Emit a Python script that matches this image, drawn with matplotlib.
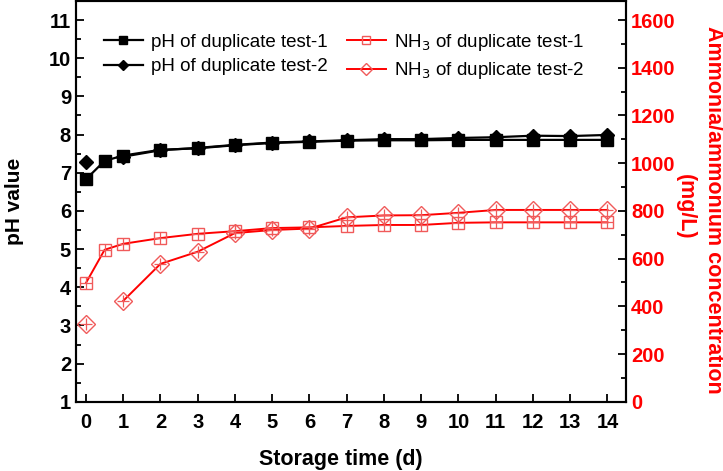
import numpy as np
import matplotlib.pyplot as plt
from matplotlib.ticker import MultipleLocator

plt.rcParams['font.family'] = ['Liberation Sans', 'DejaVu Sans']

# storage time (d); the 0.5 d point only exists for test-1
days = [0, 0.5, 1, 2, 3, 4, 5, 6, 7, 8, 9, 10, 11, 12, 13, 14]
nan = np.nan

ph_test1 = [6.83, 7.31, 7.45, 7.60, 7.64, 7.72, 7.78, 7.81, 7.84, 7.85,
            7.85, 7.86, 7.86, 7.86, 7.86, 7.86]
ph_test2 = [7.27, nan, 7.42, 7.59, 7.65, 7.73, 7.79, 7.82, 7.85, 7.88,
            7.88, 7.91, 7.93, 7.97, 7.96, 7.99]

nh3_test1 = [498, 637, 662, 686, 704, 715, 728, 731, 737, 741,
             741, 750, 752, 752, 752, 752]
nh3_test2 = [327, nan, 423, 578, 629, 707, 720, 726, 773, 781,
             782, 792, 804, 804, 804, 804]

red = '#ff0000'
mred = '#f05a5a'

fig = plt.figure(figsize=(7.23, 4.71), dpi=100)
ax = fig.add_axes([0.105, 0.147, 0.761, 0.851])
ax2 = ax.twinx()

l1, = ax.plot(days, ph_test1, '-', color='k', lw=1.6, marker='s', ms=8,
              label='pH of duplicate test-1')
l2, = ax.plot(days, ph_test2, '-', color='k', lw=1.6, marker='D', ms=7.5,
              label='pH of duplicate test-2')

l3, = ax2.plot(days, nh3_test1, '-', color=red, lw=1.4, marker='s', ms=8,
               mfc='none', mec=mred, mew=1.0,
               label='NH$_3$ of duplicate test-1')
l4, = ax2.plot(days, nh3_test2, '-', color=red, lw=1.4, marker='D', ms=9,
               mfc='none', mec=mred, mew=1.0,
               label='NH$_3$ of duplicate test-2')
# small crosses inside the open markers
ax2.plot(days, nh3_test1, ls='none', marker='+', ms=8, mew=0.9, color=mred)
ax2.plot(days, nh3_test2, ls='none', marker='+', ms=9, mew=0.9, color=mred)

ax.set_xlim(-0.27, 14.5)
ax.set_ylim(1, 11.5)
ax2.set_ylim(0, 1680)

ax.set_xticks(range(0, 15))
ax.yaxis.set_major_locator(MultipleLocator(1))
ax.yaxis.set_minor_locator(MultipleLocator(0.5))
ax2.yaxis.set_major_locator(MultipleLocator(200))
ax2.yaxis.set_minor_locator(MultipleLocator(100))
ax2.set_yticks(range(0, 1601, 200))

ax.tick_params(axis='both', which='both', direction='in', width=1.3,
               labelsize=14.5)
ax.tick_params(which='major', length=6)
ax.tick_params(which='minor', length=3.5)
ax.tick_params(axis='x', pad=8)
ax2.tick_params(axis='y', which='both', direction='in', width=1.3,
                labelsize=14.5, labelcolor=red)
ax2.tick_params(which='major', length=6)
ax2.tick_params(which='minor', length=3.5)
for t in ax.get_xticklabels() + ax.get_yticklabels() + ax2.get_yticklabels():
    t.set_fontweight('bold')

for a in (ax, ax2):
    for s in a.spines.values():
        s.set_linewidth(1.5)

ax.set_xlabel('Storage time (d)', fontsize=15.5, fontweight='bold')
ax.xaxis.set_label_coords(0.482, -0.118)
ax.set_ylabel('pH value', fontsize=15, fontweight='bold')
ax.yaxis.set_label_coords(-0.094, 0.5)

# right axis title on two lines
fig.text(714 / 723, 1 - 210 / 471, 'Ammonia/ammonium concentration',
         rotation=-90, ha='center', va='center', fontsize=15.5,
         fontweight='bold', color=red)
fig.text(685 / 723, 1 - 207 / 471, '(mg/L)',
         rotation=-90, ha='center', va='center', fontsize=15.5,
         fontweight='bold', color=red)

ax.legend(handles=[l1, l2, l3, l4], loc='upper left', ncol=2, frameon=False,
          fontsize=13.5, bbox_to_anchor=(0.02, 0.965), handlelength=2.1,
          handletextpad=0.43, columnspacing=1.0, labelspacing=0.4,
          markerscale=0.7)

fig.savefig('out.png', dpi=100)
